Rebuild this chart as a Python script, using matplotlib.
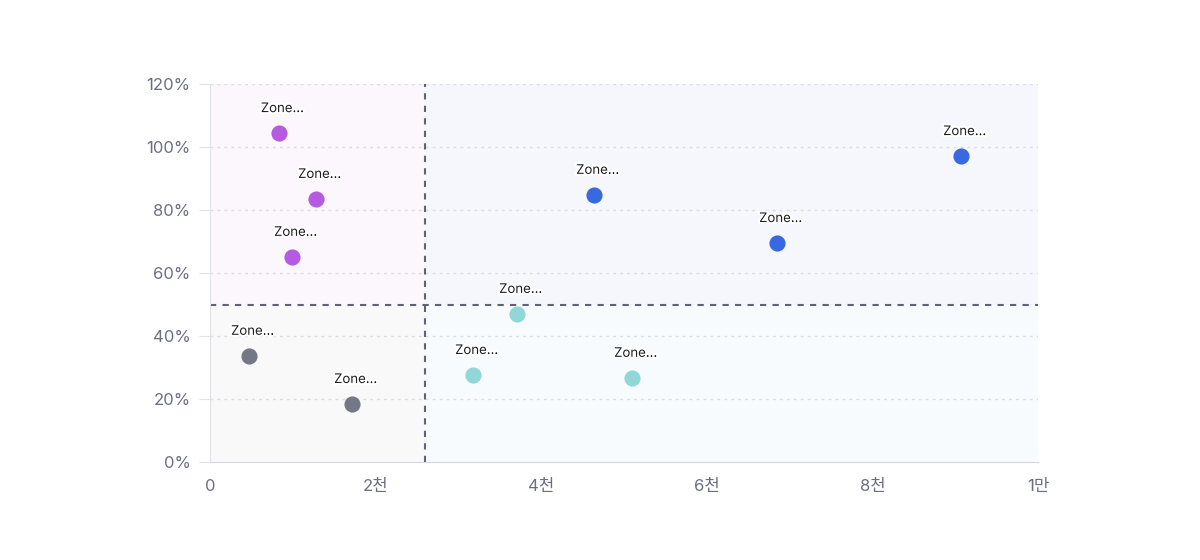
import matplotlib.pyplot as plt
import matplotlib.patheffects as pe
from matplotlib.ticker import FixedLocator

plt.rcParams['font.family'] = ['Inter', 'Noto Sans CJK KR', 'DejaVu Sans']

# data
groups = ['purple', 'purple', 'purple', 'gray', 'gray', 'teal', 'teal', 'teal', 'blue', 'blue', 'blue']
x_vals = [830, 1280, 990, 470, 1715, 3708, 3176, 5097, 4638, 6848, 9070]
y_vals = [104.4, 83.5, 65.1, 33.7, 18.4, 47.0, 27.6, 26.7, 84.8, 69.5, 97.1]
labels = ['Zone...'] * 11
x_split = 2600
y_split = 50
x_ticks = [0, 2000, 4000, 6000, 8000, 10000]
x_tick_labels = ['0', '2천', '4천', '6천', '8천', '1만']
y_ticks = [0, 20, 40, 60, 80, 100, 120]

colors = {'purple': '#b65be1', 'gray': '#747884', 'teal': '#91d7d9', 'blue': '#3969e1'}

fig = plt.figure(figsize=(12, 5.6), dpi=100)
ax = fig.add_axes([0.175, 0.175, 0.69, 0.675])
ax.set_xlim(0, 10000)
ax.set_ylim(0, 120)

# quadrant backgrounds
ax.axvspan(0, x_split, ymin=y_split / 120, ymax=1, color='#fcf7fd', zorder=0, lw=0)
ax.axvspan(x_split, 10000, ymin=y_split / 120, ymax=1, color='#f6f7fc', zorder=0, lw=0)
ax.axvspan(0, x_split, ymin=0, ymax=y_split / 120, color='#f9f9fa', zorder=0, lw=0)
ax.axvspan(x_split, 10000, ymin=0, ymax=y_split / 120, color='#f8fbfd', zorder=0, lw=0)

# grid
for t in y_ticks[1:]:
    ax.axhline(t, color='#dcdde2', lw=1, ls=(0, (2, 3)), zorder=1)

ax.axvline(x_split, color='#5f6373', lw=1.5, ls=(0, (3, 3)), zorder=2)
ax.axhline(y_split, color='#5f6373', lw=1.5, ls=(0, (3, 3)), zorder=2)

for g, x, y, lab in zip(groups, x_vals, y_vals, labels):
    ax.scatter(x, y, s=135, color=colors[g], zorder=4, linewidths=0)
    ax.annotate(lab, (x, y), xytext=(2.5, 13), textcoords='offset points',
                ha='center', va='bottom', fontsize=9.5, color='#1f1f1f', zorder=5,
                path_effects=[pe.withStroke(linewidth=3, foreground='white')])

for s in ['top', 'right']:
    ax.spines[s].set_visible(False)
ax.spines['left'].set_color('#e2e3e7')
ax.spines['bottom'].set_color('#d5d7dc')

ax.xaxis.set_major_locator(FixedLocator(x_ticks))
ax.set_xticklabels(x_tick_labels)
ax.yaxis.set_major_locator(FixedLocator(y_ticks))
ax.set_yticklabels([f'{t}%' for t in y_ticks])
ax.tick_params(axis='x', length=0, pad=12, labelsize=12, labelcolor='#6b7080')
ax.tick_params(axis='y', length=8, color='#e2e3e7', pad=6, labelsize=12, labelcolor='#6b7080')

fig.savefig('out.png', dpi=100, facecolor='white')
